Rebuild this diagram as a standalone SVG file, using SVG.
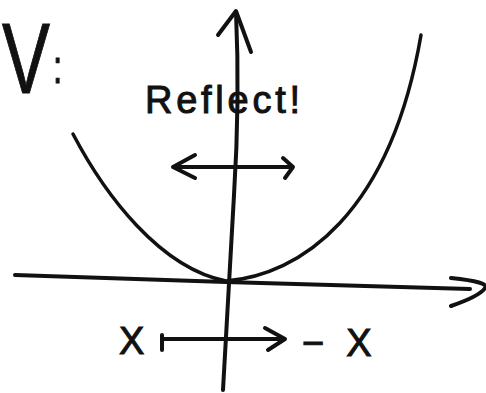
<svg xmlns="http://www.w3.org/2000/svg" width="486" height="393" viewBox="0 0 486 393">
<style>
.ink{fill:none;stroke:#111;stroke-linecap:round;stroke-linejoin:round}
.t{fill:#111;stroke:#111;stroke-width:1;font-family:"Liberation Sans",Arial,sans-serif}
</style>
<rect width="486" height="393" fill="#fff"/>
<g id="label-V"><text class="t" transform="translate(2,93) scale(0.72,1)" x="0" y="0" font-size="100">V<tspan font-size="46" dx="4" dy="-10">:</tspan></text></g>
<g id="connectors">
<path id="y-axis" class="ink" stroke-width="4" d="M236,12 Q240,100 234,195 L223,390"/>
<path class="ink" stroke-width="4" d="M218,35 L236,11 L251,52"/>
<path id="x-axis" class="ink" stroke-width="4" d="M15,275 L226,282 L470,289"/>
<path class="ink" stroke-width="4" d="M451,278 Q490,282 485,288 Q480,296 451,306"/>
<path id="parabola" class="ink" stroke-width="3.5" d="M73,134 C105,195 160,268 226,281 C300,275 390,215 421,35"/>
<path id="reflect-arrow" class="ink" stroke-width="4" d="M173,167 L293,167 M195,155 L173,167 L195,178 M283,158 L293,167 L285,178"/>
<path id="maps-to" class="ink" stroke-width="4" d="M162,335 L162,350 M162,339 L285,339 M265,328 L285,339 L268,350"/>
</g>
<g id="label-reflect"><text class="t" x="145" y="113" font-size="38" textLength="155" lengthAdjust="spacing">Reflect!</text></g>
<g id="label-x"><text class="t" x="119" y="354" font-size="38">X</text></g>
<g id="label-negx"><text class="t" x="302" y="356" font-size="38">−<tspan dx="22">X</tspan></text></g>
</svg>
